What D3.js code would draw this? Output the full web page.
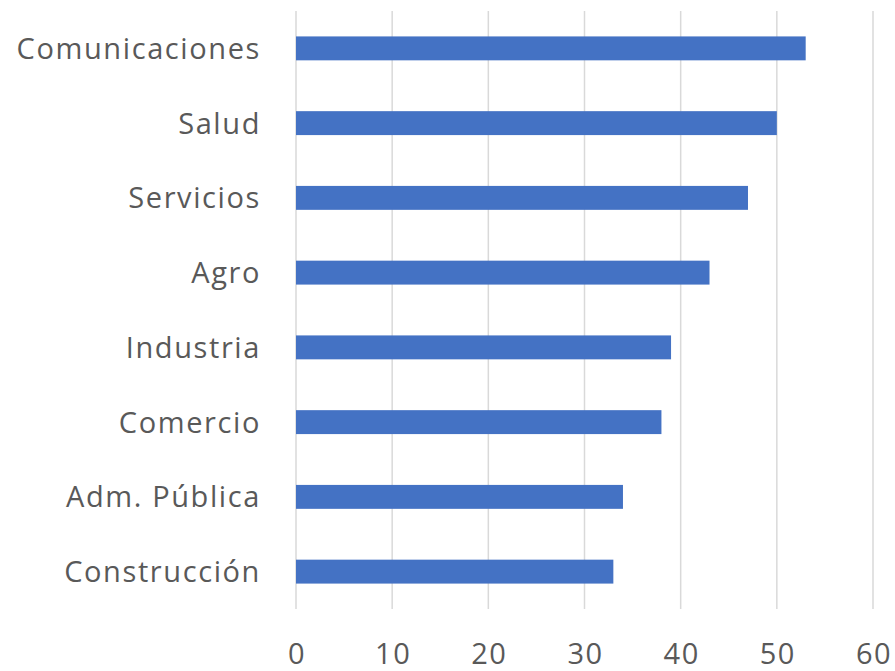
<!DOCTYPE html>
<html><head><meta charset="utf-8">
<script src="https://cdn.jsdelivr.net/npm/d3@7"></script>
<style>body{margin:0;background:#fff}</style>
</head><body>
<svg id="c" width="895" height="671"></svg>
<script>
const categories = ["Comunicaciones","Salud","Servicios","Agro","Industria","Comercio","Adm. Pública","Construcción"];
const values = [53,50,47,43,39,38,34,33];
const ticks = [0,10,20,30,40,50,60];

const svg = d3.select("#c");
const x = d3.scaleLinear().domain([0,60]).range([296,873]);
const y = d3.scaleBand().domain(categories).range([11,609]).paddingInner(0.68).paddingOuter(0.34);
const font = "'Open Sans', sans-serif";

svg.append("g").selectAll("line").data(ticks).join("line")
  .attr("x1",d=>x(d)).attr("x2",d=>x(d)).attr("y1",11).attr("y2",609)
  .attr("stroke","#d9d9d9").attr("stroke-width",1.5);

svg.append("g").selectAll("rect").data(values).join("rect")
  .attr("x",x(0)).attr("y",(d,i)=>y(categories[i]))
  .attr("width",d=>x(d)-x(0)).attr("height",y.bandwidth())
  .attr("fill","#4472C4");

svg.append("g").selectAll("text").data(categories).join("text")
  .attr("x",261).attr("y",d=>y(d)+y.bandwidth()/2).attr("dy","0.36em")
  .attr("text-anchor","end").attr("fill","#595959")
  .style("font-family",font).style("font-size","29px").style("letter-spacing","1.6px").text(d=>d);

svg.append("g").selectAll("text").data(ticks).join("text")
  .attr("x",d=>x(d)+1).attr("y",664)
  .attr("text-anchor","middle").attr("fill","#595959")
  .style("font-family",font).style("font-size","29px").style("letter-spacing","1.5px").text(d=>d);
</script>
</body></html>
